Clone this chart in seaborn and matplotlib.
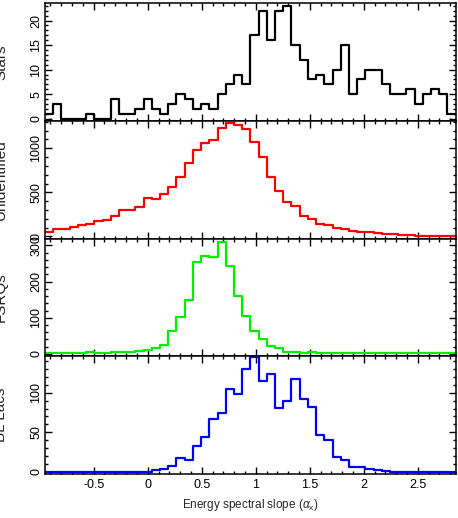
import matplotlib
matplotlib.use("Agg")
import matplotlib.pyplot as plt
from matplotlib.ticker import MultipleLocator, FormatStrFormatter
import numpy as np
import pandas as pd
import seaborn as sns

# ── Data: counts per bin of the X-ray energy spectral slope ──────────
bin_edges = np.linspace(-0.95, 2.85, 51)

stars = [1, 3, 0, 0, 0, 1, 0, 0, 4, 1,
         1, 2, 4, 2, 1, 3, 5, 4, 2, 3,
         2, 5, 7, 9, 7, 17, 22, 16, 22, 23,
         15, 12, 8, 9, 7, 10, 15, 5, 8, 10,
         10, 7, 5, 5, 6, 3, 5, 6, 5, 1]

unidentified = [53, 80, 80, 103, 129, 144, 172, 190, 236, 298,
                298, 339, 435, 423, 484, 557, 671, 831, 980, 1065,
                1095, 1232, 1286, 1266, 1217, 1072, 904, 679, 519, 389,
                347, 236, 202, 144, 129, 99, 80, 61, 53, 46,
                42, 30, 26, 19, 15, 11, 9, 7, 6, 5]

fsrqs = [2, 2, 2, 2, 3, 4, 3, 2, 4, 6,
         6, 7, 12, 17, 26, 64, 101, 150, 253, 272,
         269, 309, 243, 160, 105, 64, 42, 21, 16, 6,
         4, 3, 5, 2, 2, 2, 2, 2, 2, 2,
         2, 2, 2, 2, 2, 2, 2, 2, 2, 2]

bl_lacs = [0, 0, 0, 0, 0, 0, 0, 0, 0, 0,
           0, 0, 0, 2, 4, 7, 17, 15, 33, 44,
           67, 74, 105, 99, 130, 145, 115, 124, 81, 90,
           117, 92, 82, 46, 40, 19, 15, 6, 6, 3,
           2, 1, 0, 0, 0, 0, 0, 0, 0, 0]

panel_names = ["Stars", "Unidentified", "FSRQs", "BL Lacs"]
panel_counts = [stars, unidentified, fsrqs, bl_lacs]

# ── Styling ──────────────────────────────────────────────────────────
_COLORS = ["black", "#ff0000", "#00ee00", "#0000ff"]
_YLIMS = [(-0.45, 23.5), (-23, 1310), (-6, 319), (-2.6, 146.5)]
_YMAJOR = [5, 500, 100, 50]
_YMINOR = [1, 100, 20, 10]
_LW_STEP = 1.6
_LW_SPINE = 1.1

sns.set_style("ticks")
plt.rcParams["font.family"] = ["Liberation Sans", "DejaVu Sans"]
plt.rcParams["mathtext.fontset"] = "custom"
plt.rcParams["mathtext.rm"] = "Liberation Sans"
plt.rcParams["mathtext.it"] = "Liberation Sans:italic"

fig, axes = plt.subplots(4, 1, figsize=(4.58, 5.18), dpi=100, sharex=True)
fig.subplots_adjust(left=0.0983, right=0.995, top=0.9936, bottom=0.0855, hspace=0)

centers = 0.5 * (bin_edges[:-1] + bin_edges[1:])

for i, ax in enumerate(axes):
    df = pd.DataFrame({"alpha": centers, "count": panel_counts[i]})
    # seaborn compares bins to "auto" when weights are used, so pass a list
    sns.histplot(
        data=df,
        x="alpha",
        weights="count",
        bins=bin_edges.tolist(),
        element="step",
        fill=False,
        color=_COLORS[i],
        linewidth=_LW_STEP,
        ax=ax,
    )
    ax.set_xlim(bin_edges[0], bin_edges[-1])
    ax.set_ylim(*_YLIMS[i])
    ax.yaxis.set_major_locator(MultipleLocator(_YMAJOR[i]))
    ax.yaxis.set_minor_locator(MultipleLocator(_YMINOR[i]))
    ax.xaxis.set_major_locator(MultipleLocator(0.5))
    ax.xaxis.set_minor_locator(MultipleLocator(0.1))
    ax.xaxis.set_major_formatter(FormatStrFormatter("%g"))
    for spine in ax.spines.values():
        spine.set_visible(True)
        spine.set_linewidth(_LW_SPINE)
        spine.set_color("black")
    ax.tick_params(which="both", direction="in", top=True, right=True,
                   width=1.0, colors="black", labelsize=9)
    ax.tick_params(which="major", length=5)
    ax.tick_params(which="minor", length=2.5)
    ax.tick_params(axis="y", labelrotation=90, pad=2)
    plt.setp(ax.get_yticklabels(), va="center")
    ax.set_ylabel(panel_names[i], fontsize=11)
    ax.yaxis.set_label_coords(-0.09, 0.5)
    ax.set_xlabel("")

axes[-1].tick_params(axis="x", pad=4)
axes[-1].set_xlabel(r"Energy spectral slope ($\alpha_{\rm x}$)", fontsize=8.5)

fig.savefig("out.png", dpi=100, facecolor="white")
